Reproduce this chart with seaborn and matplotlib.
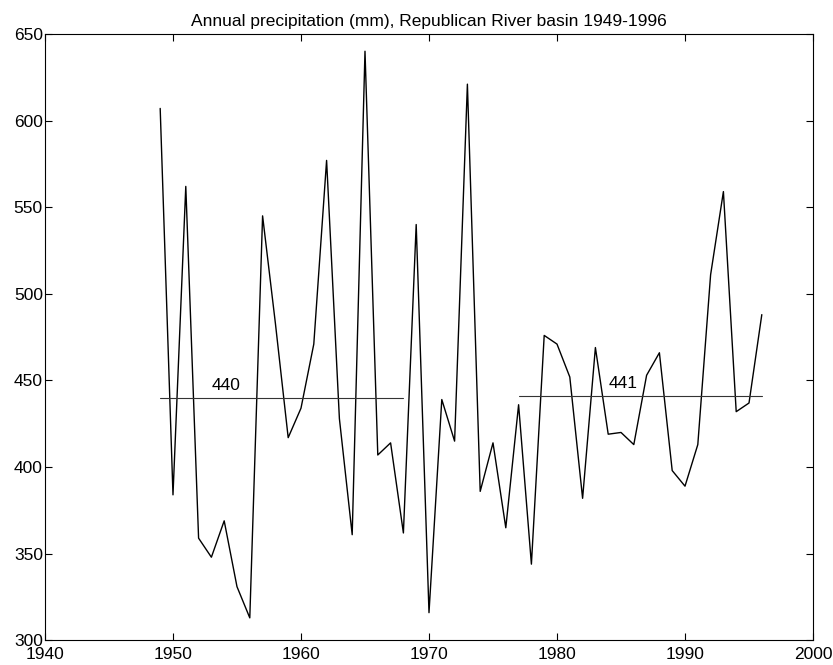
import numpy as np
import pandas as pd
import seaborn as sns
import matplotlib.pyplot as plt

years = list(range(1949, 1997))
precip = [607, 384, 562, 359, 348, 369, 331, 313, 545, 483,
          417, 434, 471, 577, 428, 361, 640, 407, 414, 362,
          540, 316, 439, 415, 621, 386, 414, 365, 436, 344,
          476, 471, 452, 382, 469, 419, 420, 413, 453, 466,
          398, 389, 413, 511, 559, 432, 437, 488]

mean_periods = [(1949, 1968), (1977, 1996)]
mean_values = [440, 441]
mean_labels = ["440", "441"]
mean_label_x = [1953.0, 1984.0]

sns.set_theme(style="white")
plt.rcParams['font.family'] = ['Liberation Sans', 'DejaVu Sans']
plt.rcParams['text.color'] = 'black'
plt.rcParams['xtick.color'] = 'black'
plt.rcParams['ytick.color'] = 'black'

df = pd.DataFrame({"year": years, "precip": precip})

fig = plt.figure(figsize=(8.33, 6.65), dpi=100)
ax = fig.add_axes([0.054, 0.037, 0.922, 0.912])

sns.lineplot(data=df, x="year", y="precip", color="black", linewidth=1.0, ax=ax)

# period means
for (x0, x1), m, lab, lx in zip(mean_periods, mean_values, mean_labels, mean_label_x):
    ax.plot([x0, x1], [m, m], color="#333333", linewidth=0.8)
    ax.text(lx, m + 3, lab, fontsize=12.5, color="black", ha="left", va="bottom")

ax.set_xlim(1940, 2000)
ax.set_ylim(300, 650)
ax.set_xticks(np.arange(1940, 2001, 10))
ax.set_yticks(np.arange(300, 651, 50))
ax.set_xlabel("")
ax.set_ylabel("")
ax.set_title("Annual precipitation (mm), Republican River basin 1949-1996",
             fontsize=12.5, pad=6, color="black")

ax.tick_params(direction="in", length=5, width=0.8, labelsize=12.5,
               top=True, right=True, bottom=True, left=True)
ax.tick_params(axis="x", pad=5)
ax.tick_params(axis="y", pad=1.5)
for s in ax.spines.values():
    s.set_color("black")
    s.set_linewidth(0.8)

fig.savefig("out.png", dpi=100)
